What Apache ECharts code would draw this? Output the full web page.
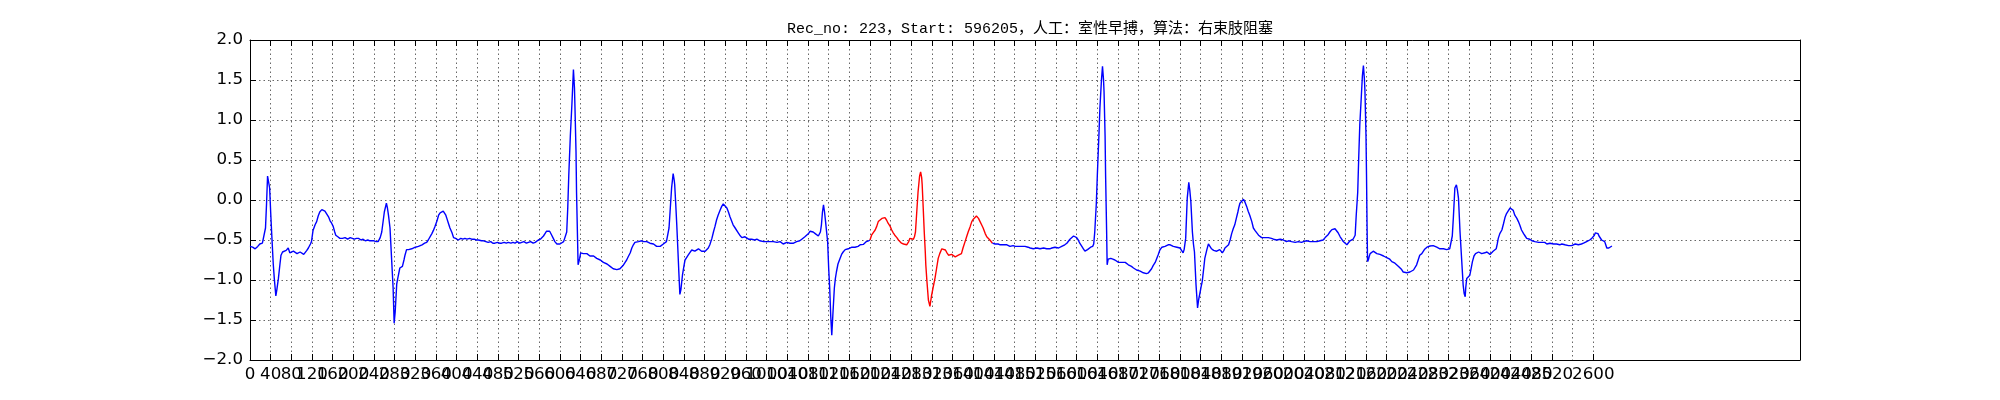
<!DOCTYPE html>
<html>
<head>
<meta charset="utf-8">
<script src="https://cdn.jsdelivr.net/npm/echarts@6/dist/echarts.min.js"></script>
<style>
html,body{margin:0;padding:0;background:#fff;}
#chart{width:2000px;height:400px;}
</style>
</head>
<body>
<div id="chart"></div>
<script>
const titleText = "Rec_no: 223，Start: 596205，人工：室性早搏，算法：右束肢阻塞";
const xTicks = Array.from({length: 66}, (_, i) => i * 40); // 0 .. 2600
const yTicks = [-2.0, -1.5, -1.0, -0.5, 0.0, 0.5, 1.0, 1.5, 2.0];

const blueA = [[0,-0.58],[5,-0.59],[10,-0.61],[15,-0.58],[19,-0.55],[24,-0.54],[27,-0.52],[30,-0.35],[32,-0.05],[34,0.30],[36,0.29],[38,0.15],[40,-0.15],[42,-0.42],[45,-0.80],[47,-0.98],[50,-1.20],[52,-1.12],[55,-0.98],[58,-0.80],[60,-0.69],[63,-0.65],[66,-0.65],[70,-0.63],[74,-0.60],[77,-0.66],[80,-0.66],[84,-0.64],[87,-0.65],[91,-0.67],[94,-0.67],[97,-0.65],[100,-0.66],[104,-0.68],[106,-0.68],[110,-0.63],[113,-0.60],[117,-0.55],[119,-0.52],[122,-0.38],[126,-0.31],[129,-0.27],[132,-0.20],[135,-0.15],[139,-0.12],[142,-0.13],[145,-0.14],[148,-0.15],[152,-0.21],[155,-0.26],[158,-0.29],[161,-0.33],[164,-0.40],[166,-0.44],[170,-0.46],[174,-0.48],[179,-0.48],[184,-0.47],[189,-0.49],[194,-0.47],[197,-0.48],[202,-0.49],[206,-0.48],[210,-0.48],[215,-0.50],[219,-0.49],[223,-0.51],[228,-0.50],[232,-0.51],[235,-0.51],[240,-0.51],[244,-0.52],[248,-0.52],[252,-0.47],[255,-0.40],[258,-0.25],[260,-0.15],[264,-0.04],[266,-0.10],[268,-0.19],[271,-0.35],[274,-0.73],[277,-1.10],[279,-1.54],[281,-1.40],[284,-1.05],[286,-0.98],[290,-0.85],[295,-0.83],[298,-0.75],[300,-0.69],[303,-0.62],[307,-0.62],[310,-0.61],[313,-0.61],[316,-0.60],[320,-0.59],[323,-0.58],[326,-0.58],[329,-0.56],[333,-0.56],[338,-0.54],[342,-0.53],[345,-0.50],[348,-0.48],[352,-0.42],[355,-0.38],[358,-0.33],[362,-0.26],[365,-0.19],[368,-0.16],[371,-0.14],[374,-0.14],[376,-0.15],[379,-0.19],[381,-0.23],[384,-0.29],[387,-0.35],[391,-0.41],[394,-0.47],[398,-0.48],[403,-0.50],[408,-0.48],[412,-0.49],[416,-0.48],[420,-0.49],[425,-0.48],[429,-0.49],[434,-0.49],[438,-0.50],[442,-0.50],[448,-0.51],[452,-0.51],[455,-0.52],[461,-0.53],[466,-0.52],[470,-0.54],[474,-0.54],[479,-0.53],[483,-0.54],[487,-0.54],[492,-0.53],[496,-0.54],[500,-0.53],[505,-0.54],[509,-0.53],[513,-0.54],[517,-0.52],[522,-0.54],[526,-0.53],[530,-0.52],[535,-0.54],[539,-0.53],[543,-0.52],[548,-0.54],[552,-0.53],[555,-0.51],[558,-0.50],[562,-0.49],[565,-0.48],[568,-0.45],[571,-0.42],[574,-0.39],[577,-0.37],[580,-0.39],[584,-0.44],[587,-0.48],[590,-0.52],[594,-0.55],[597,-0.57],[600,-0.55],[603,-0.53],[607,-0.52],[610,-0.50],[613,-0.40],[615,-0.10],[617,0.31],[620,0.80],[623,1.19],[626,1.63],[628,1.40],[629,1.15],[631,0.60],[632,0.10],[634,-0.50],[635,-0.81],[637,-0.76],[638,-0.73],[640,-0.66],[642,-0.65],[645,-0.67],[648,-0.68],[652,-0.67],[655,-0.68],[658,-0.70],[661,-0.71],[665,-0.70],[668,-0.72],[671,-0.73],[674,-0.74],[678,-0.75],[681,-0.76],[684,-0.78],[687,-0.79],[691,-0.80],[694,-0.81],[697,-0.83],[700,-0.85],[703,-0.86],[706,-0.875],[710,-0.87],[713,-0.86],[716,-0.86],[719,-0.85],[722,-0.82],[726,-0.78],[729,-0.75],[732,-0.71],[736,-0.66],[739,-0.60],[742,-0.56],[745,-0.53],[748,-0.52],[752,-0.52],[755,-0.51],[758,-0.51],[762,-0.52],[765,-0.53],[768,-0.52],[771,-0.52],[774,-0.54],[777,-0.56],[781,-0.55],[784,-0.555],[787,-0.58],[790,-0.60],[794,-0.58],[797,-0.56],[800,-0.55],[803,-0.54],[806,-0.52],[808,-0.51],[811,-0.35],[813,-0.15],[816,0.15],[819,0.33],[821,0.25],[822,0.19],[824,-0.05],[826,-0.31],[828,-0.60],[830,-0.90],[832,-1.18],[834,-1.12],[837,-0.94],[840,-0.82],[842,-0.75],[845,-0.72],[848,-0.69],[851,-0.66],[855,-0.625],[858,-0.63],[861,-0.64],[864,-0.62],[868,-0.61],[871,-0.63],[874,-0.64],[877,-0.63],[881,-0.64],[884,-0.63],[887,-0.60],[890,-0.56],[894,-0.48],[897,-0.40],[900,-0.33],[903,-0.25],[906,-0.19],[910,-0.125],[913,-0.08],[916,-0.05],[919,-0.06],[923,-0.10],[926,-0.15],[929,-0.21],[932,-0.26],[935,-0.31],[939,-0.35],[942,-0.375],[945,-0.41],[948,-0.44],[952,-0.47],[955,-0.48],[958,-0.46],[961,-0.47],[965,-0.49],[968,-0.48],[971,-0.49],[974,-0.48],[977,-0.50],[981,-0.49],[984,-0.50],[987,-0.51],[990,-0.51],[994,-0.52],[997,-0.51],[1000,-0.52],[1003,-0.52],[1007,-0.52],[1010,-0.53],[1013,-0.52],[1016,-0.52],[1020,-0.53],[1023,-0.52],[1026,-0.52],[1029,-0.54],[1032,-0.55],[1035,-0.54],[1039,-0.53],[1042,-0.54],[1045,-0.54],[1048,-0.53],[1052,-0.54],[1055,-0.53],[1058,-0.52],[1061,-0.52],[1064,-0.51],[1068,-0.49],[1071,-0.47],[1074,-0.46],[1077,-0.45],[1081,-0.42],[1084,-0.39],[1087,-0.39],[1090,-0.40],[1094,-0.42],[1097,-0.44],[1100,-0.45],[1102,-0.45],[1104,-0.40],[1106,-0.31],[1108,-0.15],[1110,-0.06],[1112,-0.15],[1114,-0.27],[1116,-0.40],[1118,-0.52],[1120,-0.85],[1122,-1.10],[1124,-1.45],[1126,-1.69],[1128,-1.45],[1131,-1.10],[1133,-0.98],[1135,-0.90],[1138,-0.80],[1142,-0.73],[1145,-0.68],[1148,-0.65],[1152,-0.62],[1155,-0.60],[1158,-0.61],[1161,-0.61],[1165,-0.59],[1168,-0.58],[1171,-0.59],[1174,-0.60],[1177,-0.58],[1181,-0.56],[1184,-0.56],[1187,-0.555],[1190,-0.54],[1193,-0.52],[1197,-0.51],[1200,-0.50]];

const redPart = [[1200,-0.50],[1203,-0.44],[1206,-0.41],[1210,-0.375],[1213,-0.33],[1216,-0.27],[1219,-0.25],[1223,-0.23],[1226,-0.23],[1229,-0.22],[1232,-0.25],[1235,-0.29],[1239,-0.33],[1242,-0.375],[1245,-0.41],[1248,-0.44],[1252,-0.47],[1255,-0.50],[1258,-0.52],[1261,-0.54],[1265,-0.55],[1268,-0.56],[1271,-0.56],[1273,-0.55],[1275,-0.52],[1277,-0.48],[1280,-0.48],[1284,-0.49],[1286,-0.46],[1288,-0.40],[1290,-0.20],[1293,0.10],[1296,0.30],[1298,0.35],[1300,0.28],[1301,0.19],[1303,-0.10],[1305,-0.40],[1307,-0.65],[1308,-0.81],[1310,-1.00],[1313,-1.25],[1316,-1.33],[1319,-1.20],[1322,-1.10],[1326,-0.97],[1329,-0.85],[1332,-0.73],[1335,-0.67],[1339,-0.61],[1342,-0.61],[1346,-0.625],[1349,-0.66],[1352,-0.69],[1355,-0.70],[1358,-0.68],[1361,-0.70],[1365,-0.71],[1368,-0.70],[1371,-0.69],[1374,-0.68],[1377,-0.67],[1380,-0.60],[1384,-0.52],[1387,-0.46],[1390,-0.40],[1394,-0.33],[1397,-0.27],[1400,-0.24],[1403,-0.22],[1406,-0.20],[1408,-0.20],[1410,-0.23],[1413,-0.27],[1416,-0.31],[1419,-0.35],[1423,-0.42],[1426,-0.46],[1429,-0.48],[1432,-0.50],[1435,-0.52],[1437,-0.54]];

const blueB = [[1437,-0.54],[1439,-0.555],[1442,-0.55],[1445,-0.54],[1448,-0.55],[1452,-0.56],[1455,-0.555],[1458,-0.56],[1461,-0.57],[1465,-0.56],[1468,-0.57],[1471,-0.58],[1474,-0.575],[1477,-0.57],[1481,-0.58],[1484,-0.58],[1487,-0.58],[1490,-0.59],[1494,-0.58],[1497,-0.59],[1500,-0.58],[1503,-0.60],[1506,-0.59],[1510,-0.60],[1513,-0.60],[1516,-0.61],[1519,-0.59],[1523,-0.60],[1526,-0.60],[1529,-0.61],[1532,-0.60],[1536,-0.60],[1539,-0.60],[1542,-0.61],[1545,-0.60],[1548,-0.61],[1552,-0.60],[1555,-0.61],[1558,-0.59],[1561,-0.60],[1565,-0.60],[1568,-0.58],[1571,-0.58],[1574,-0.57],[1577,-0.56],[1581,-0.54],[1584,-0.52],[1587,-0.49],[1590,-0.47],[1594,-0.45],[1597,-0.45],[1600,-0.47],[1603,-0.50],[1606,-0.54],[1610,-0.58],[1613,-0.61],[1616,-0.64],[1618,-0.65],[1621,-0.62],[1624,-0.60],[1627,-0.59],[1631,-0.58],[1633,-0.55],[1635,-0.40],[1638,-0.05],[1640,0.31],[1643,0.80],[1645,1.15],[1648,1.50],[1650,1.67],[1652,1.50],[1653,1.35],[1655,0.80],[1656,0.31],[1658,-0.40],[1659,-0.81],[1661,-0.74],[1664,-0.72],[1666,-0.73],[1670,-0.74],[1674,-0.75],[1677,-0.76],[1681,-0.78],[1684,-0.77],[1687,-0.78],[1690,-0.79],[1694,-0.78],[1697,-0.79],[1700,-0.81],[1703,-0.82],[1706,-0.83],[1710,-0.85],[1713,-0.86],[1716,-0.875],[1719,-0.88],[1723,-0.89],[1726,-0.90],[1729,-0.91],[1732,-0.92],[1735,-0.92],[1739,-0.91],[1742,-0.90],[1745,-0.86],[1748,-0.82],[1752,-0.78],[1755,-0.73],[1758,-0.68],[1761,-0.625],[1765,-0.59],[1768,-0.58],[1771,-0.58],[1774,-0.57],[1777,-0.56],[1781,-0.56],[1784,-0.57],[1787,-0.58],[1790,-0.58],[1794,-0.59],[1797,-0.60],[1800,-0.60],[1803,-0.63],[1806,-0.66],[1808,-0.62],[1811,-0.48],[1814,0.02],[1817,0.22],[1819,0.12],[1821,-0.02],[1824,-0.40],[1826,-0.55],[1828,-0.65],[1831,-1.06],[1834,-1.35],[1836,-1.25],[1839,-1.15],[1841,-1.08],[1843,-1.02],[1846,-0.85],[1848,-0.73],[1852,-0.62],[1855,-0.55],[1858,-0.58],[1861,-0.61],[1865,-0.63],[1868,-0.65],[1871,-0.64],[1874,-0.64],[1877,-0.62],[1880,-0.64],[1882,-0.66],[1885,-0.63],[1887,-0.60],[1890,-0.58],[1894,-0.56],[1897,-0.50],[1900,-0.42],[1903,-0.36],[1906,-0.31],[1909,-0.23],[1912,-0.15],[1914,-0.09],[1916,-0.04],[1919,-0.02],[1923,0.01],[1926,-0.03],[1929,-0.08],[1932,-0.14],[1935,-0.19],[1939,-0.27],[1942,-0.35],[1945,-0.38],[1948,-0.40],[1952,-0.44],[1955,-0.46],[1958,-0.47],[1961,-0.46],[1965,-0.47],[1968,-0.48],[1971,-0.47],[1974,-0.49],[1977,-0.48],[1981,-0.49],[1984,-0.48],[1987,-0.50],[1990,-0.50],[1994,-0.49],[1997,-0.51],[2000,-0.50],[2003,-0.51],[2006,-0.52],[2010,-0.51],[2013,-0.52],[2016,-0.52],[2019,-0.51],[2023,-0.53],[2026,-0.52],[2029,-0.52],[2032,-0.51],[2035,-0.53],[2039,-0.52],[2042,-0.52],[2045,-0.51],[2048,-0.53],[2052,-0.52],[2055,-0.52],[2058,-0.52],[2061,-0.53],[2065,-0.52],[2068,-0.52],[2071,-0.51],[2074,-0.51],[2077,-0.50],[2081,-0.47],[2084,-0.46],[2087,-0.43],[2090,-0.40],[2094,-0.37],[2097,-0.36],[2100,-0.36],[2103,-0.375],[2106,-0.41],[2110,-0.46],[2113,-0.49],[2116,-0.52],[2119,-0.54],[2123,-0.56],[2126,-0.54],[2129,-0.51],[2132,-0.50],[2135,-0.49],[2137,-0.47],[2139,-0.44],[2141,-0.20],[2144,0.10],[2146,0.55],[2148,0.94],[2151,1.30],[2153,1.55],[2155,1.68],[2157,1.50],[2158,1.35],[2160,0.80],[2161,0.31],[2162,-0.30],[2163,-0.77],[2165,-0.74],[2166,-0.71],[2168,-0.67],[2171,-0.65],[2174,-0.64],[2177,-0.65],[2181,-0.67],[2184,-0.69],[2187,-0.68],[2190,-0.69],[2194,-0.70],[2197,-0.70],[2200,-0.72],[2203,-0.73],[2206,-0.74],[2210,-0.77],[2213,-0.78],[2216,-0.79],[2219,-0.81],[2223,-0.83],[2226,-0.85],[2229,-0.87],[2232,-0.90],[2235,-0.90],[2239,-0.91],[2242,-0.90],[2245,-0.90],[2248,-0.89],[2252,-0.875],[2255,-0.85],[2258,-0.81],[2261,-0.75],[2264,-0.69],[2268,-0.67],[2271,-0.65],[2273,-0.62],[2275,-0.60],[2278,-0.59],[2281,-0.58],[2284,-0.575],[2287,-0.58],[2290,-0.57],[2293,-0.58],[2297,-0.59],[2300,-0.60],[2303,-0.61],[2306,-0.60],[2310,-0.61],[2313,-0.61],[2316,-0.62],[2319,-0.625],[2322,-0.61],[2325,-0.60],[2327,-0.45],[2329,-0.23],[2332,0.15],[2335,0.19],[2337,0.12],[2339,0.02],[2342,-0.40],[2345,-0.73],[2348,-1.06],[2350,-1.17],[2352,-1.21],[2353,-1.10],[2355,-0.98],[2358,-0.96],[2361,-0.94],[2364,-0.84],[2366,-0.77],[2369,-0.70],[2372,-0.67],[2375,-0.66],[2378,-0.65],[2381,-0.65],[2384,-0.67],[2387,-0.68],[2390,-0.66],[2392,-0.64],[2394,-0.65],[2397,-0.67],[2400,-0.68],[2403,-0.66],[2406,-0.64],[2409,-0.63],[2412,-0.61],[2414,-0.55],[2416,-0.48],[2419,-0.42],[2423,-0.375],[2426,-0.30],[2429,-0.22],[2432,-0.17],[2435,-0.14],[2439,-0.10],[2442,-0.08],[2445,-0.13],[2448,-0.19],[2452,-0.23],[2455,-0.27],[2458,-0.32],[2461,-0.375],[2465,-0.42],[2468,-0.45],[2471,-0.48],[2474,-0.49],[2477,-0.49],[2481,-0.51],[2484,-0.50],[2487,-0.52],[2490,-0.51],[2494,-0.53],[2497,-0.52],[2500,-0.53],[2503,-0.54],[2506,-0.53],[2510,-0.55],[2513,-0.54],[2516,-0.54],[2519,-0.55],[2523,-0.55],[2526,-0.56],[2529,-0.55],[2532,-0.56],[2535,-0.56],[2539,-0.55],[2542,-0.56],[2545,-0.56],[2548,-0.55],[2552,-0.57],[2555,-0.56],[2558,-0.57],[2561,-0.56],[2565,-0.55],[2568,-0.56],[2571,-0.56],[2574,-0.55],[2577,-0.55],[2581,-0.54],[2584,-0.54],[2587,-0.52],[2590,-0.51],[2593,-0.50],[2597,-0.48],[2600,-0.46],[2602,-0.44],[2604,-0.41],[2606,-0.40],[2609,-0.42],[2611,-0.45],[2613,-0.47],[2616,-0.50],[2619,-0.52],[2622,-0.52],[2624,-0.56],[2626,-0.60],[2628,-0.61],[2630,-0.60],[2633,-0.58],[2636,-0.575]];

const chart = echarts.init(document.getElementById('chart'), null, {renderer: 'canvas'});
const labelFont = {fontFamily: 'DejaVu Sans', fontSize: 16.7, color: '#000'};
const gridLine = {show: true, lineStyle: {color: '#000', width: 0.6, type: [1.5, 3]}};
const fmtY = v => (v < 0 ? '\u2212' : '') + Math.abs(v).toFixed(1);

chart.setOption({
  animation: false,
  backgroundColor: '#fff',
  title: {
    text: titleText,
    left: 1025, textAlign: 'center',
    top: 17,
    textStyle: {fontFamily: '"Liberation Mono", "Noto Sans CJK SC"', fontSize: 15, fontWeight: 'normal', color: '#000'}
  },
  grid: {left: 250, right: 200, top: 40, bottom: 40, containLabel: false},
  xAxis: [
    {
      type: 'value', min: 0, max: 3000, position: 'bottom',
      axisLine: {show: true, onZero: false, lineStyle: {color: '#000', width: 1}},
      axisTick: {show: true, inside: true, length: 6, customValues: xTicks, lineStyle: {color: '#000', width: 1}},
      axisLabel: Object.assign({show: true, margin: 6, customValues: xTicks, hideOverlap: false, showMaxLabel: true, formatter: v => String(v)}, labelFont),
      splitLine: gridLine
    },
    {
      type: 'value', min: 0, max: 3000, position: 'top',
      axisLine: {show: true, onZero: false, lineStyle: {color: '#000', width: 1}},
      axisTick: {show: true, inside: true, length: 6, customValues: xTicks, lineStyle: {color: '#000', width: 1}},
      axisLabel: {show: false},
      splitLine: {show: false}
    }
  ],
  yAxis: [
    {
      type: 'value', min: -2, max: 2, interval: 0.5, position: 'left',
      axisLine: {show: true, onZero: false, lineStyle: {color: '#000', width: 1}},
      axisTick: {show: true, inside: true, length: 6, lineStyle: {color: '#000', width: 1}},
      axisLabel: Object.assign({show: true, margin: 7, formatter: fmtY}, labelFont),
      splitLine: gridLine
    },
    {
      type: 'value', min: -2, max: 2, interval: 0.5, position: 'right',
      axisLine: {show: true, onZero: false, lineStyle: {color: '#000', width: 1}},
      axisTick: {show: true, inside: true, length: 6, lineStyle: {color: '#000', width: 1}},
      axisLabel: {show: false},
      splitLine: {show: false}
    }
  ],
  series: [
    {type: 'line', data: blueA, showSymbol: false, symbol: 'none', lineStyle: {color: '#0000ff', width: 1.4}, itemStyle: {color: '#0000ff'}, z: 3},
    {type: 'line', data: redPart, showSymbol: false, symbol: 'none', lineStyle: {color: '#ff0000', width: 1.4}, itemStyle: {color: '#ff0000'}, z: 3},
    {type: 'line', data: blueB, showSymbol: false, symbol: 'none', lineStyle: {color: '#0000ff', width: 1.4}, itemStyle: {color: '#0000ff'}, z: 3}
  ]
});
</script>
</body>
</html>
